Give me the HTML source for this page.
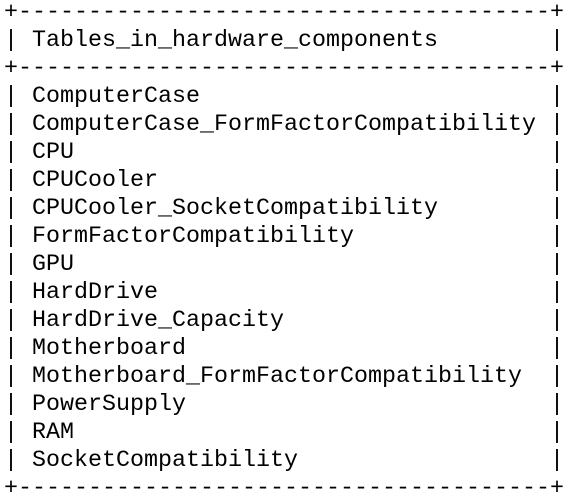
<!DOCTYPE html>
<html><head><style>
html,body{margin:0;padding:0;background:#fff;width:572px;height:498px;overflow:hidden}
pre{position:absolute;left:4px;top:-1px;margin:0;font-family:"Liberation Mono",monospace;font-size:23.33px;line-height:28px;color:#000}
</style></head><body><pre>+--------------------------------------+
| Tables_in_hardware_components        |
+--------------------------------------+
| ComputerCase                         |
| ComputerCase_FormFactorCompatibility |
| CPU                                  |
| CPUCooler                            |
| CPUCooler_SocketCompatibility        |
| FormFactorCompatibility              |
| GPU                                  |
| HardDrive                            |
| HardDrive_Capacity                   |
| Motherboard                          |
| Motherboard_FormFactorCompatibility  |
| PowerSupply                          |
| RAM                                  |
| SocketCompatibility                  |
+--------------------------------------+</pre></body></html>
